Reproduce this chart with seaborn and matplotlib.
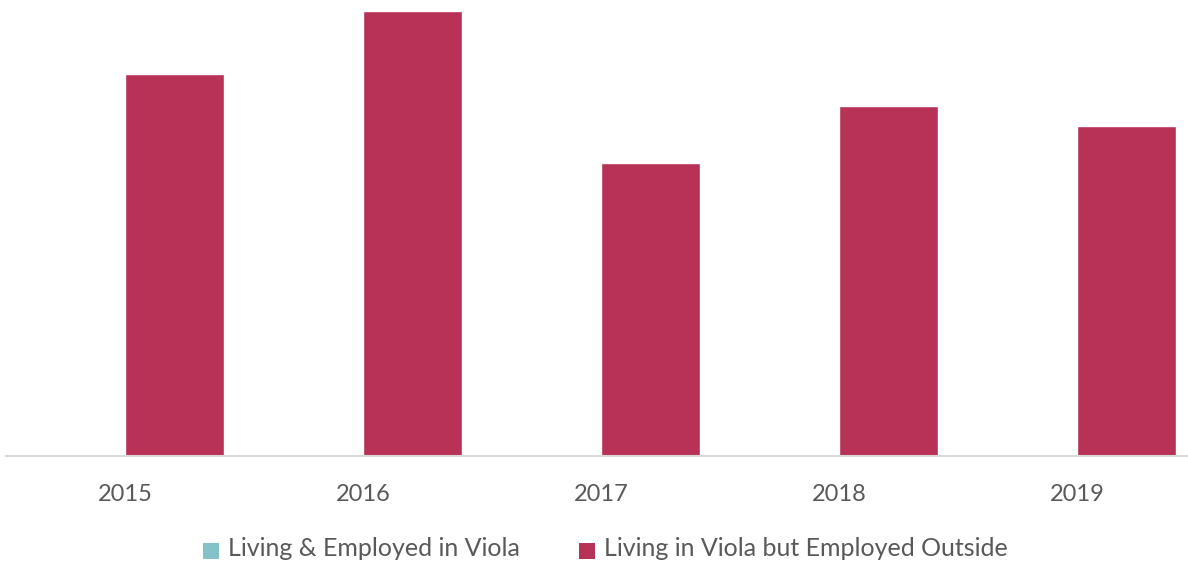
import matplotlib
matplotlib.use("Agg")
import matplotlib.pyplot as plt
import seaborn as sns
import pandas as pd

years = ["2015", "2016", "2017", "2018", "2019"]
series_names = ["Living & Employed in Viola", "Living in Viola but Employed Outside"]
living_employed = [0, 0, 0, 0, 0]
living_outside = [382, 445, 293, 350, 330]
colors = ["#85C1C9", "#B83156"]

df = pd.DataFrame({
    "year": years * 2,
    "series": [series_names[0]] * len(years) + [series_names[1]] * len(years),
    "value": living_employed + living_outside,
})

sns.set_theme(style="white")
plt.rcParams["font.family"] = ["Lato", "DejaVu Sans"]

fig = plt.figure(figsize=(11.88, 5.66), dpi=100)
ax = fig.add_axes([6 / 1188, 110 / 566, 1190 / 1188, 456 / 566])

sns.barplot(data=df, x="year", y="value", hue="series", palette=colors,
            width=0.832, saturation=1, ax=ax, order=years, hue_order=series_names)

ax.set_ylim(0, 456)
ax.set_xlim(-0.5, 4.5)
ax.set_xlabel("")
ax.set_ylabel("")
ax.set_yticks([])
for s in ["top", "right", "left"]:
    ax.spines[s].set_visible(False)
ax.spines["bottom"].set_color("#D9D9D9")
ax.spines["bottom"].set_linewidth(1.5)
ax.tick_params(axis="x", length=0, pad=20, labelsize=17, labelcolor="#595959")

leg = ax.legend(loc="center", bbox_to_anchor=(605.5 / 1188, (566 - 549) / 566),
                bbox_transform=fig.transFigure,
                ncol=2, frameon=False, fontsize=18, handlelength=0.67, handleheight=0.6,
                handletextpad=0.33, columnspacing=2.35)
for h in leg.legend_handles:
    h.set_x(0)
    h.set_width(11.5)
    h.set_height(11.5)
    h.set_y(-1.5)
    h.set_linewidth(0)
for t in leg.get_texts():
    t.set_color("#595959")

fig.savefig("out.png", dpi=100)
